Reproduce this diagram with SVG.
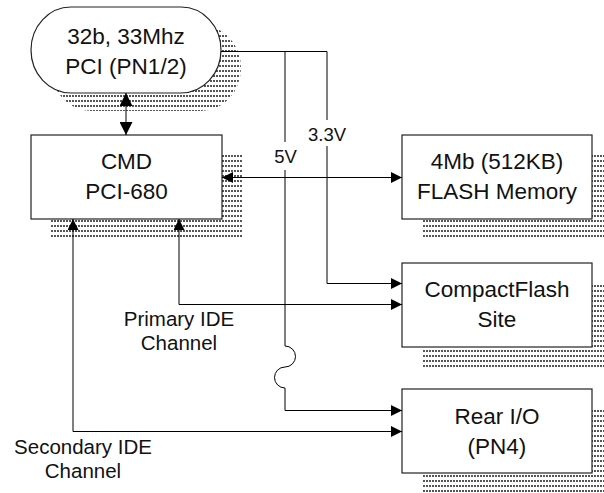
<svg xmlns="http://www.w3.org/2000/svg" width="604" height="493" viewBox="0 0 604 493">
  <style>
    .box { fill: #fff; stroke: #222; stroke-width: 1.2; }
    .shadow { fill: url(#dots); stroke: none; }
    .ntext { font-family: "Liberation Sans", Arial, Helvetica, sans-serif; font-size: 22.5px; fill: #111; text-anchor: middle; }
    .ltext { font-family: "Liberation Sans", Arial, Helvetica, sans-serif; font-size: 20.5px; fill: #111; text-anchor: middle; }
    .vtext { font-family: "Liberation Sans", Arial, Helvetica, sans-serif; font-size: 18.5px; fill: #111; text-anchor: middle; }
    .wire { fill: none; stroke: #000; stroke-width: 1; }
    .arr { marker-end: url(#ah); }
    .arr2 { marker-start: url(#ah); marker-end: url(#ah); }
  </style>
  <defs>
    <pattern id="dots" width="3" height="5" patternUnits="userSpaceOnUse">
      <rect x="0" y="0" width="2" height="2" fill="#555"/>
    </pattern>
    <marker id="ah" markerUnits="userSpaceOnUse" markerWidth="11" markerHeight="11" refX="11" refY="5.5" orient="auto-start-reverse">
      <path d="M0,0 L11,5.5 L0,11 Z" fill="#000"/>
    </marker>
    <marker id="ahb" markerUnits="userSpaceOnUse" markerWidth="13" markerHeight="13" refX="13" refY="6.5" orient="auto-start-reverse">
      <path d="M0,0 L13,6.5 L0,13 Z" fill="#000"/>
    </marker>
  </defs>
  <rect width="604" height="493" fill="#fff"/>

  <g id="pci">
    <rect class="shadow" x="51" y="25" width="190" height="86" rx="40" ry="43"/>
    <rect class="box" x="31" y="7" width="190" height="86" rx="40" ry="43"/>
    <text class="ntext" x="126" y="43.5">32b, 33Mhz</text>
    <text class="ntext" x="126" y="73.5">PCI (PN1/2)</text>
  </g>

  <g id="cmd">
    <rect class="shadow" x="51" y="155" width="191" height="84"/>
    <rect class="box" x="31" y="135" width="191" height="84"/>
    <text class="ntext" x="126.5" y="169.3">CMD</text>
    <text class="ntext" x="126.5" y="199.3">PCI-680</text>
  </g>

  <g id="flash">
    <rect class="shadow" x="422" y="155" width="190" height="84"/>
    <rect class="box" x="402" y="135" width="190" height="84"/>
    <text class="ntext" x="497" y="169.3">4Mb (512KB)</text>
    <text class="ntext" x="497" y="199.3">FLASH Memory</text>
  </g>

  <g id="compactflash">
    <rect class="shadow" x="422" y="283" width="190" height="84"/>
    <rect class="box" x="402" y="263" width="190" height="84"/>
    <text class="ntext" x="497" y="296.7">CompactFlash</text>
    <text class="ntext" x="497" y="326.7">Site</text>
  </g>

  <g id="rear-io">
    <rect class="shadow" x="422" y="409" width="190" height="84"/>
    <rect class="box" x="402" y="389" width="190" height="84"/>
    <text class="ntext" x="497" y="424.3">Rear I/O</text>
    <text class="ntext" x="497" y="454">(PN4)</text>
  </g>

  <g id="connectors">
    <line class="wire" x1="126" y1="93" x2="126" y2="135" stroke-width="2.2" marker-start="url(#ahb)" marker-end="url(#ahb)"/>
    <path class="wire arr2" d="M222,177.5 H402"/>
    <path class="wire arr" d="M221,51.5 H327 V283.5 H402"/>
    <path class="wire arr" d="M285,51.5 V346 A10.5,10.5 0 0 1 285,367 A10.5,10.5 0 0 0 285,388 V410.5 H402"/>
    <path class="wire arr2" d="M179,219 V304.5 H402"/>
    <path class="wire arr2" d="M73,219 V431.5 H402"/>
  </g>

  <g id="labels">
    <rect x="312" y="120" width="30" height="26" fill="#fff"/>
    <text class="vtext" x="327" y="140.7">3.3V</text>
    <rect x="274" y="142" width="23" height="28" fill="#fff"/>
    <text class="vtext" x="285.5" y="162.7">5V</text>
    <text class="ltext" x="179" y="326">Primary IDE</text>
    <text class="ltext" x="179" y="350">Channel</text>
    <text class="ltext" x="83" y="454">Secondary IDE</text>
    <text class="ltext" x="83" y="478.3">Channel</text>
  </g>
</svg>
